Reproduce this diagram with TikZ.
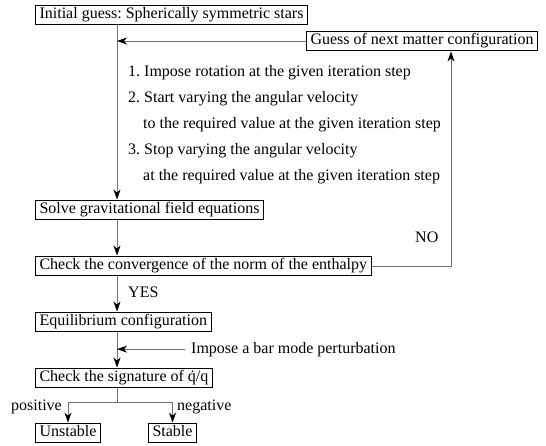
\documentclass[tikz,border=0pt]{standalone}
\usepackage{fontspec}
\setmainfont{Liberation Serif}
\usetikzlibrary{arrows.meta,calc}
\definecolor{conngray}{HTML}{707070}
\begin{document}
\frenchspacing
\begin{tikzpicture}[x=1pt,y=-1pt,
  font=\fontsize{16}{19}\selectfont,
  box/.style={draw=black, line width=1.1pt, inner xsep=4pt, inner ysep=2.6pt,
              text height=11pt, text depth=3.5pt, anchor=west},
  lbl/.style={inner sep=0pt, anchor=base west},
  conn/.style={draw=conngray, line width=0.9pt},
  arr/.style={conn, -{Stealth[length=10pt,width=7pt,inset=3pt,color=black]}}
]
\useasboundingbox (0,0) rectangle (546,446);
\coordinate (spine) at (117,0);
\coordinate (loopx) at (451,0);
\coordinate (split) at (117,402);

\node[box] (init) at (35,15) {Initial guess: Spherically symmetric stars};
\node[box] (guess) at (306,41) {Guess of next matter configuration};
\node[lbl] (t1) at (128,77) {1. Impose rotation at the given iteration step};
\node[lbl] (t2) at (128,103) {2. Start varying the angular velocity};
\node[lbl] (t3) at (143,129) {to the required value at the given iteration step};
\node[lbl] (t4) at (128,155) {3. Stop varying the angular velocity};
\node[lbl] (t5) at (143,181) {at the required value at the given iteration step};
\node[box] (solve) at (35,210) {Solve gravitational field equations};
\node[box] (check) at (35,266) {Check the convergence of the norm of the enthalpy};
\node[lbl] (no) at (415,243) {NO};
\node[lbl] (yes) at (128,298) {YES};
\node[box] (equil) at (35,322) {Equilibrium configuration};
\node[lbl] (bar) at (191,353) {Impose a bar mode perturbation};
\node[box] (sig) at (35,378) {Check the signature of \.q/q};
\node[box] (unst) at (35,433) {Unstable};
\node[box] (stab) at (148,433) {Stable};
\node[lbl, anchor=base east] (pos) at (62,410) {positive};
\node[lbl] (neg) at (177,410) {negative};

\draw[arr] (init.south -| spine) -- (solve.north -| spine);
\draw[arr] (guess.west) -- (guess.west -| spine);
\draw[arr] (solve.south -| spine) -- (check.north -| spine);
\draw[arr] (check.south -| spine) -- (equil.north -| spine);
\draw[arr] (check.east) -- (check.east -| loopx) -- (guess.south -| loopx);
\draw[arr] (equil.south -| spine) -- (sig.north -| spine);
\draw[arr] ([xshift=-6pt]bar.west) -- (bar.west -| spine);
\draw[conn] (sig.south -| spine) -- (split);
\draw[arr] (split) -| (unst.north);
\draw[arr] (split) -| (stab.north);
\end{tikzpicture}
\end{document}
